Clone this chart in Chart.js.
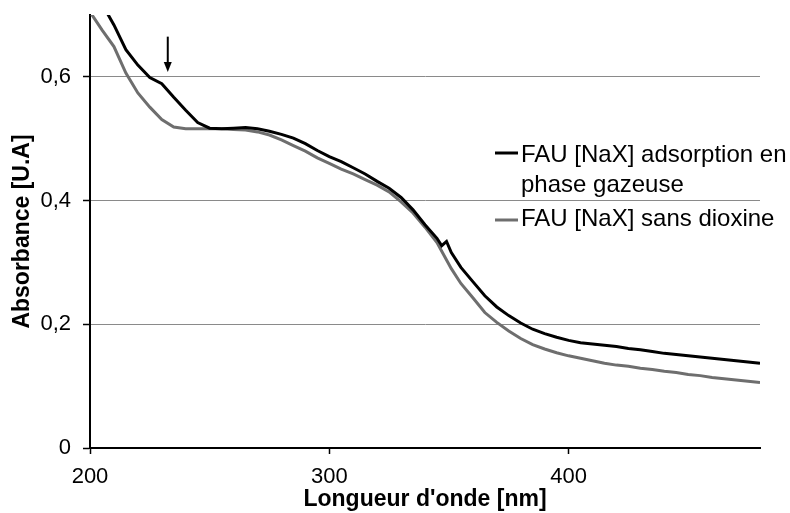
<!DOCTYPE html>
<html>
<head>
<meta charset="utf-8">
<script src="https://cdn.jsdelivr.net/npm/chart.js@4.4.1/dist/chart.umd.min.js"></script>
<style>
  body { margin: 0; background: #fff; }
  #wrap { width: 790px; height: 513px; }
</style>
</head>
<body>
<div id="wrap"><canvas id="spectrumChart" width="790" height="513"></canvas></div>
<script>
const wavelengths = [200, 205, 210, 215, 220, 225, 230, 235, 240, 245, 250, 255, 260, 265, 270, 275, 280, 285, 290, 295,
  300, 305, 310, 315, 320, 325, 330, 335, 340, 345, 347, 349, 351, 355, 360, 365, 370, 375, 380, 385, 390, 395,
  400, 405, 410, 415, 420, 425, 430, 435, 440, 445, 450, 455, 460, 465, 470, 475, 480];

const adsorptionValues = [0.760, 0.718, 0.684, 0.644, 0.619, 0.599, 0.589, 0.567, 0.546, 0.526, 0.517, 0.516, 0.517, 0.518, 0.516, 0.512, 0.507, 0.501, 0.492, 0.481,
  0.471, 0.463, 0.453, 0.443, 0.431, 0.420, 0.405, 0.385, 0.361, 0.339, 0.327, 0.334, 0.316, 0.292, 0.269, 0.246, 0.228, 0.214, 0.202, 0.192, 0.185, 0.179,
  0.174, 0.170, 0.168, 0.166, 0.164, 0.161, 0.159, 0.156, 0.153, 0.151, 0.149, 0.147, 0.145, 0.143, 0.141, 0.139, 0.137];

const sansDioxineValues = [0.705, 0.676, 0.649, 0.606, 0.574, 0.551, 0.531, 0.519, 0.516, 0.516, 0.516, 0.516, 0.515, 0.514, 0.511, 0.506, 0.498, 0.489, 0.480, 0.469,
  0.460, 0.451, 0.443, 0.434, 0.425, 0.414, 0.398, 0.380, 0.357, 0.332, 0.318, 0.304, 0.290, 0.266, 0.243, 0.219, 0.203, 0.189, 0.177, 0.167, 0.160, 0.154,
  0.149, 0.145, 0.141, 0.137, 0.134, 0.132, 0.129, 0.127, 0.124, 0.122, 0.119, 0.117, 0.114, 0.112, 0.110, 0.108, 0.106];

const seriesLabels = [["FAU [NaX] adsorption en", "phase gazeuse"], ["FAU [NaX] sans dioxine"]];
const xTicks = [200, 300, 400];
const yTicks = [0, 0.2, 0.4, 0.6];

// arrow marking the shoulder on the adsorption curve
const arrowWavelength = 232.5;
const arrowFrom = 0.665;
const arrowTo = 0.608;

Chart.defaults.font.family = '"Liberation Sans", Arial, sans-serif';
Chart.defaults.color = "#000";

function toPoints(values) {
  return wavelengths.map((w, i) => ({ x: w, y: values[i] }));
}

const overlayPlugin = {
  id: "overlay",
  afterDraw(chart) {
    const { ctx, scales } = chart;
    const x = scales.x;
    const y = scales.y;

    // arrow
    const ax = x.getPixelForValue(arrowWavelength);
    const ay1 = y.getPixelForValue(arrowFrom);
    const ay2 = y.getPixelForValue(arrowTo);
    ctx.save();
    ctx.strokeStyle = "#000";
    ctx.fillStyle = "#000";
    ctx.lineWidth = 2;
    ctx.beginPath();
    ctx.moveTo(ax, ay1);
    ctx.lineTo(ax, ay2 - 8);
    ctx.stroke();
    ctx.beginPath();
    ctx.moveTo(ax - 4, ay2 - 10);
    ctx.lineTo(ax + 4, ay2 - 10);
    ctx.lineTo(ax, ay2);
    ctx.closePath();
    ctx.fill();

    // legend
    ctx.font = '24px "Liberation Sans", Arial, sans-serif';
    ctx.textBaseline = "alphabetic";
    ctx.textAlign = "left";
    const lineY = [153, 220];
    const baseY = [162, 226];
    chart.data.datasets.forEach((ds, i) => {
      ctx.strokeStyle = ds.borderColor;
      ctx.lineWidth = 3;
      ctx.beginPath();
      ctx.moveTo(495, lineY[i]);
      ctx.lineTo(518, lineY[i]);
      ctx.stroke();
      ctx.fillStyle = "#000";
      seriesLabels[i].forEach((line, j) => {
        ctx.fillText(line, 521, baseY[i] + j * 30);
      });
    });
    ctx.restore();
  },
};

new Chart(document.getElementById("spectrumChart"), {
  type: "line",
  data: {
    datasets: [
      {
        label: seriesLabels[0].join(" "),
        data: toPoints(adsorptionValues),
        borderColor: "#000000",
        borderWidth: 3,
        pointRadius: 0,
        tension: 0,
      },
      {
        label: seriesLabels[1].join(" "),
        data: toPoints(sansDioxineValues),
        borderColor: "#6e6e6e",
        borderWidth: 3,
        pointRadius: 0,
        tension: 0,
      },
    ],
  },
  options: {
    responsive: false,
    animation: false,
    layout: { padding: { left: 0, top: 15, right: 30, bottom: 0 } },
    plugins: {
      legend: { display: false },
      tooltip: { enabled: false },
    },
    scales: {
      x: {
        type: "linear",
        min: 200,
        max: 480,
        afterFit(scale) {
          scale.height = 65;
          scale.paddingLeft = 0;
          scale.paddingRight = 0;
        },
        afterBuildTicks(scale) {
          scale.ticks = xTicks.map((v) => ({ value: v }));
        },
        border: { color: "#000", width: 2 },
        grid: {
          display: true,
          drawOnChartArea: false,
          drawTicks: true,
          tickLength: 6,
          tickColor: "#000",
          tickWidth: 1.5,
        },
        ticks: {
          padding: 10,
          maxRotation: 0,
          font: { size: 22 },
          color: "#000",
        },
        title: {
          display: true,
          text: "Longueur d'onde [nm]",
          font: { size: 23, weight: "bold" },
          padding: { top: 0, bottom: 0 },
          color: "#000",
        },
      },
      y: {
        min: 0,
        max: 0.7,
        afterFit(scale) {
          scale.width = 90;
          scale.paddingTop = 0;
          scale.paddingBottom = 0;
        },
        afterBuildTicks(scale) {
          scale.ticks = yTicks.map((v) => ({ value: v }));
        },
        border: { color: "#000", width: 2 },
        grid: {
          color: "#8a8a8a",
          lineWidth: 1,
          tickLength: 7,
          tickColor: "#000",
          tickWidth: 1.5,
        },
        ticks: {
          padding: 12,
          font: { size: 22 },
          color: "#000",
          callback: (v) => (v === 0 ? "0" : v.toFixed(1).replace(".", ",")),
        },
        title: {
          display: true,
          text: "Absorbance [U.A]",
          font: { size: 23, weight: "bold" },
          padding: { top: 9, bottom: 0 },
          color: "#000",
        },
      },
    },
  },
  plugins: [overlayPlugin],
});
</script>
</body>
</html>
